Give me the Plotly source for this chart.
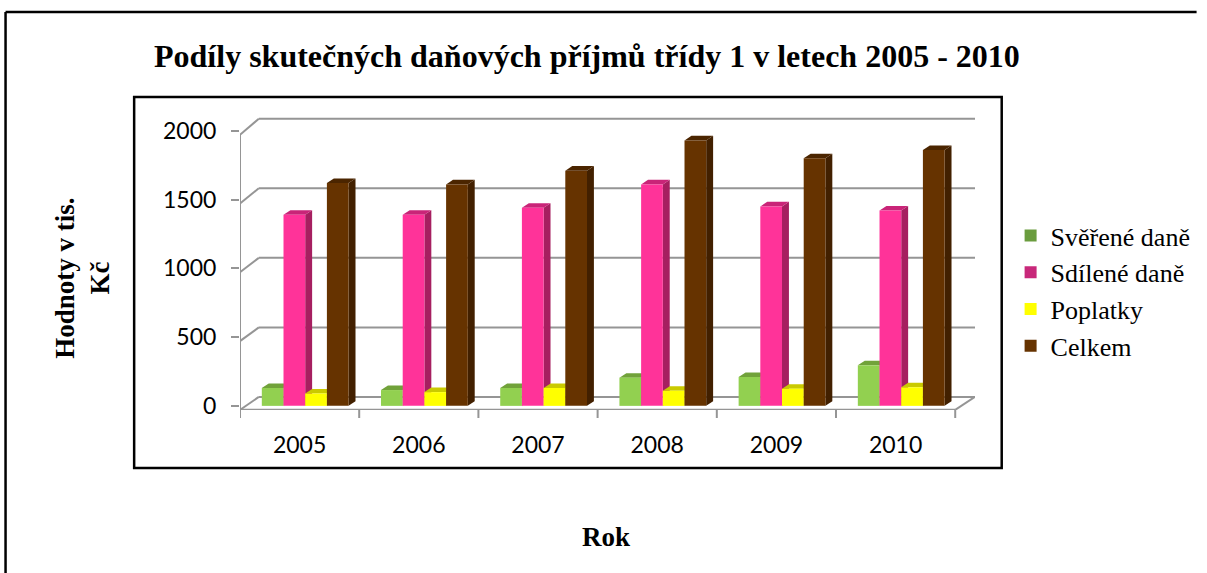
import plotly.graph_objects as go

years = ["2005", "2006", "2007", "2008", "2009", "2010"]
sverene = [130, 115, 130, 205, 210, 295]
sdilene = [1390, 1390, 1440, 1610, 1450, 1420]
poplatky = [90, 100, 130, 110, 125, 135]
celkem = [1620, 1610, 1710, 1930, 1800, 1860]
series_names = ["Svěřené daně", "Sdílené daně", "Poplatky", "Celkem"]
yticks = [0, 500, 1000, 1500, 2000]

series_vals = [sverene, sdilene, poplatky, celkem]
front_cols = ["#92D050", "#FF3399", "#FFFF00", "#663300"]
top_cols = ["#71A23A", "#C92478", "#CACA00", "#4B2500"]
side_cols = ["#6B9A36", "#A61F60", "#BDBD00", "#422000"]
legend_cols = ["#6A9C3E", "#C8287A", "#FFFF00", "#663300"]

W, H = 1207, 573
L, R, T, B = 240, 224, 117, 163
YMIN, YMAX = -30, 2100
XMIN, XMAX = -0.5, 5.5 + 20 / 120.5

bw = 0.182            # bar width (category units)
off0 = -0.317         # left edge of first bar relative to category centre
sdx, sdy = 0.058, 33  # 3D depth of bar faces (x units, y units)
gdx = 19 / 120.5      # wall depth
def front(v):
    return v - 29
def back(v):
    return 65 + v * 1.011

fig = go.Figure()
for i, (name, vals) in enumerate(zip(series_names, series_vals)):
    fig.add_trace(go.Bar(x=list(range(len(years))), y=vals, name=name, width=bw,
                         offset=off0 + i * bw, showlegend=False,
                         marker=dict(color=front_cols[i], line=dict(width=0))))
for i, name in enumerate(series_names):
    fig.add_trace(go.Bar(x=[None], y=[None], name=name, legendgroup=name,
                         marker=dict(color=legend_cols[i], line=dict(width=0))))

shapes = []
gl = dict(color="#959595", width=2)
# back wall gridlines + diagonal connectors
for v in yticks:
    shapes.append(dict(type="line", xref="x", yref="y", x0=XMIN, y0=front(v), x1=XMIN + gdx, y1=back(v),
                       line=gl, layer="below"))
    shapes.append(dict(type="line", xref="x", yref="y", x0=XMIN + gdx, y0=back(v), x1=XMAX, y1=back(v),
                       line=gl, layer="below"))
# front axis, floor
shapes.append(dict(type="line", xref="x", yref="y", x0=XMIN, y0=front(0), x1=XMIN, y1=front(2000) + 4,
                   line=gl, layer="below"))
shapes.append(dict(type="line", xref="x", yref="y", x0=XMIN, y0=front(0), x1=5.5, y1=front(0),
                   line=gl, layer="below"))
shapes.append(dict(type="line", xref="x", yref="y", x0=5.5, y0=front(0), x1=XMAX, y1=back(0),
                   line=gl, layer="below"))
# 3D faces of the bars
for i, vals in enumerate(series_vals):
    for c, v in enumerate(vals):
        xl = c + off0 + i * bw
        xr = xl + bw
        top = f"M{xl},{v} L{xl + sdx},{v + sdy} L{xr + sdx},{v + sdy} L{xr},{v} Z"
        side = f"M{xr},0 L{xr + sdx},{sdy} L{xr + sdx},{v + sdy} L{xr},{v} Z"
        shapes.append(dict(type="path", xref="x", yref="y", path=side, fillcolor=side_cols[i],
                           line=dict(width=0), layer="below"))
        shapes.append(dict(type="path", xref="x", yref="y", path=top, fillcolor=top_cols[i],
                           line=dict(width=0), layer="below"))

pw, ph = W - L - R, H - T - B
def px(x):
    return (x - L) / pw
def py(y):
    return (H - B - y) / ph

bl = dict(color="black", width=2.5)
shapes.append(dict(type="line", xref="paper", yref="paper", x0=px(3), x1=px(1207), y0=py(12), y1=py(12),
                   line=bl, layer="below"))
shapes.append(dict(type="line", xref="paper", yref="paper", x0=px(3), x1=px(3), y0=py(12), y1=py(573),
                   line=bl, layer="below"))
shapes.append(dict(type="rect", xref="paper", yref="paper", x0=px(133), x1=px(1010), y0=py(468), y1=py(97),
                   line=bl, fillcolor="rgba(0,0,0,0)", layer="below"))

fig.update_layout(
    width=W, height=H,
    margin=dict(l=L, r=R, t=T, b=B),
    paper_bgcolor="white", plot_bgcolor="rgba(0,0,0,0)",
    barmode="overlay",
    legend=dict(x=px(1206), y=py(212), xanchor="right", yanchor="top",
                bgcolor="rgba(0,0,0,0)",
                font=dict(family="Liberation Serif", size=26, color="black"),
                tracegroupgap=0, itemwidth=30),
    xaxis=dict(range=[XMIN, XMAX], tickmode="array", tickvals=list(range(len(years))), ticktext=years,
               showgrid=False, showline=False, zeroline=False,
               ticks="", ticklabelstandoff=19,
               tickfont=dict(family="Lato", size=23, color="black")),
    yaxis=dict(range=[YMIN, YMAX], tickvals=yticks,
               showgrid=False, showline=False, zeroline=False,
               ticks="outside", ticklen=8, tickcolor="#959595", tickwidth=2,
               ticklabelstandoff=10,
               tickfont=dict(family="Lato", size=23, color="black")),
    shapes=shapes,
    annotations=[
        dict(text="<b>Podíly skutečných daňových příjmů třídy 1 v letech 2005 - 2010</b>",
             xref="paper", yref="paper", x=px(591), y=py(56), xanchor="center", yanchor="middle",
             showarrow=False, font=dict(family="Liberation Serif", size=32, color="black")),
        dict(text="<b>Hodnoty v tis.<br>Kč</b>", textangle=-90,
             xref="paper", yref="paper", x=px(80), y=py(278), xanchor="center", yanchor="middle",
             showarrow=False, font=dict(family="Liberation Serif", size=27, color="black")),
        dict(text="<b>Rok</b>",
             xref="paper", yref="paper", x=px(610), y=py(537), xanchor="center", yanchor="middle",
             showarrow=False, font=dict(family="Liberation Serif", size=27, color="black")),
    ],
)
# x tick marks at category boundaries on the floor front edge
for b_ in range(len(years) + 1):
    fig.add_shape(type="line", xref="x", yref="paper", x0=b_ - 0.5, x1=b_ - 0.5,
                  y0=0, y1=-8 / ph, line=gl, layer="below")

fig.write_html("out.html", config={"displayModeBar": False},
               post_script="document.body.style.margin='0';")
